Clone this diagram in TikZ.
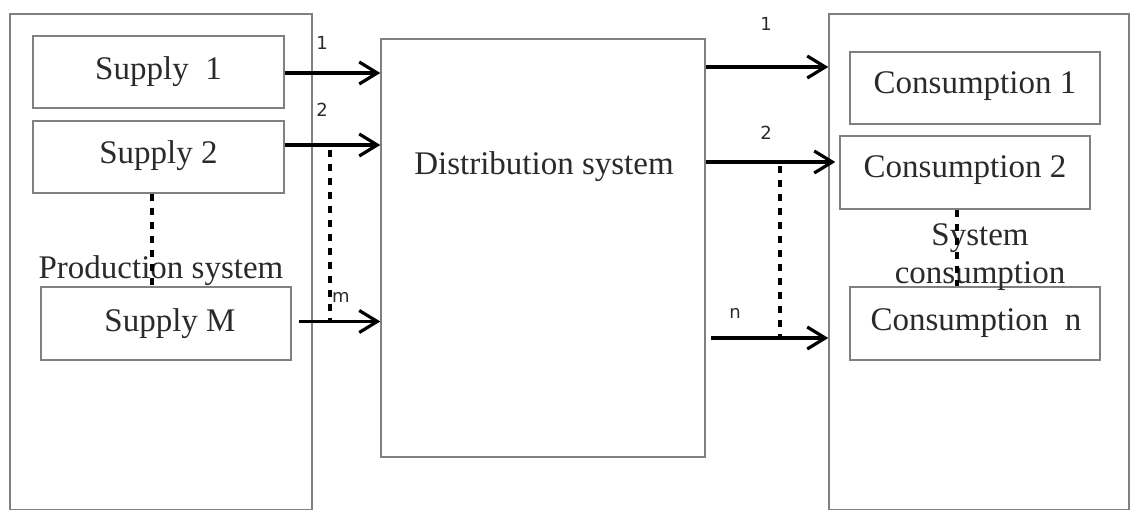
\documentclass[tikz,border=0pt]{standalone}
\usepackage{fontspec}
\setmainfont{Liberation Serif}
\newfontfamily\lblfont{DejaVu Sans}
\usetikzlibrary{arrows.meta,calc}
\definecolor{boxgray}{HTML}{808080}
\definecolor{txtgray}{HTML}{2A2A2A}
\begin{document}
\begin{tikzpicture}[x=1pt,y=-1pt,
  frame/.style={draw=boxgray,line width=1.4pt,inner sep=0pt,fill=none},
  bigtxt/.style={font=\fontsize{33}{38}\selectfont,text=txtgray,inner sep=0pt,align=center},
  lbl/.style={font=\lblfont\fontsize{18}{20}\selectfont,text=txtgray,inner sep=0pt},
  flow/.style={line width=3.8pt,-{Straight Barb[length=18pt,width=22pt,line width=3.2pt]}},
  dots/.style={line width=3.8pt,dash pattern=on 7pt off 7pt}]
\useasboundingbox (0,0) rectangle (1130,510);
% outer boxes
\node[frame,minimum width=302pt,minimum height=496pt] (prod) at (161,262) {};
\node[frame,minimum width=300pt,minimum height=496pt] (cons) at (979,262) {};
\node[frame,minimum width=324pt,minimum height=418pt] (dist) at (543,248) {};
\node[bigtxt] (disttxt) at (544,167) {Distribution system};
% supply boxes
\node[frame,minimum width=251pt,minimum height=72pt] (s1) at (158.5,72) {};
\node[bigtxt] (s1t) at (158.5,72) {Supply\ \ 1};
\node[frame,minimum width=251pt,minimum height=72pt] (s2) at (158.5,157) {};
\node[bigtxt] (s2t) at (158.5,156) {Supply 2};
\node[frame,minimum width=250pt,minimum height=73pt] (sM) at (166,323.5) {};
\node[bigtxt] (sMt) at (170,324) {Supply M};
\node[bigtxt] (prodt) at (161,271) {Production system};
% consumption boxes
\node[frame,minimum width=250pt,minimum height=72pt] (c1) at (975,88) {};
\node[bigtxt] (c1t) at (975,86) {Consumption 1};
\node[frame,minimum width=250pt,minimum height=73pt] (c2) at (965,172.5) {};
\node[bigtxt] (c2t) at (965,170) {Consumption 2};
\node[frame,minimum width=250pt,minimum height=73pt] (cn) at (975,323.5) {};
\node[bigtxt] (cnt) at (976,323) {Consumption\ \ n};
\node[bigtxt] (consys) at (980,257) {System\\consumption};
% arrows from supplies
\draw[flow] ([yshift=-1pt]s1.east) -- ([yshift=-1pt]s1.east -| dist.west);
\draw[flow] ([yshift=12pt]s2.east) -- ([yshift=12pt]s2.east -| dist.west);
\draw[flow] ([xshift=7pt,yshift=2pt]sM.east) -- ([yshift=2pt]sM.east -| dist.west);
% arrows to consumers
\coordinate (o1) at (706,67);
\coordinate (o2) at (706,162);
\coordinate (on) at (711,338);
\draw[flow] (o1) -- (o1 -| cons.west);
\draw[flow] (o2) -- ([xshift=-4pt]o2 -| c2.west);
\draw[flow] (on) -- (on -| cons.west);
% labels
\node[lbl] (l1) at (322,43) {1};
\node[lbl] (l2) at (322,110) {2};
\node[lbl] (lm) at (341,297) {m};
\node[lbl] (r1) at (766,24) {1};
\node[lbl] (r2) at (766,133) {2};
\node[lbl] (rn) at (735,313) {n};
% dotted lines
\coordinate (dl1) at (330,150);
\coordinate (dl2) at (330,320);
\coordinate (dr1) at (780,166);
\coordinate (dr2) at (780,338);
\draw[dots] (dl1) -- (dl2);
\draw[dots] (dr1) -- (dr2);
\draw[dots] ([xshift=-6.5pt]s2.south) -- ([xshift=-6.5pt]s2.south |- sM.north);
\draw[dots] ([xshift=-8pt]c2.south) -- ([xshift=-8pt]c2.south |- cn.north);
\end{tikzpicture}
\end{document}
